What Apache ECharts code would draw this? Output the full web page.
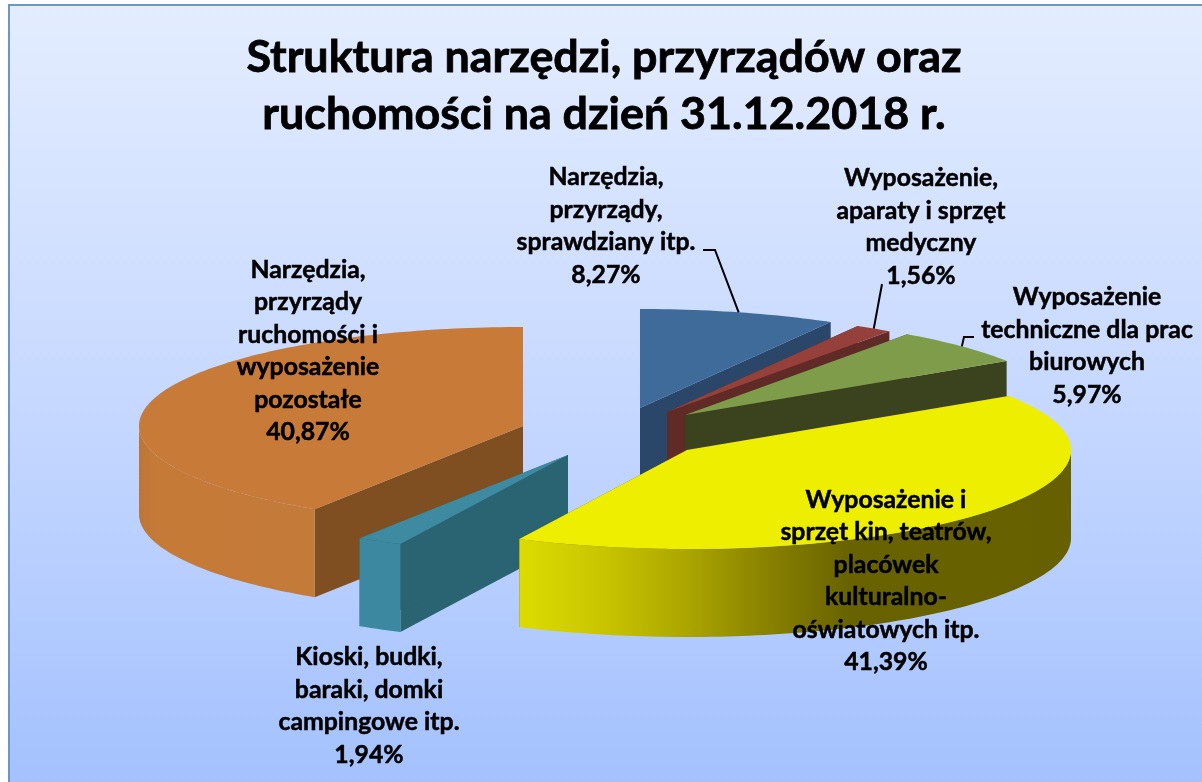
<!DOCTYPE html>
<html>
<head>
<meta charset="utf-8">
<style>html,body{margin:0;padding:0;background:#fff}#c{width:1202px;height:782px}</style>
<script src="https://cdn.jsdelivr.net/npm/echarts@6/dist/echarts.min.js"></script>
</head>
<body>
<div id="c"></div>
<script>
const titleText = 'Struktura narzędzi, przyrządów oraz\nruchomości na dzień 31.12.2018 r.';
const categories = [
  'Narzędzia,\nprzyrządy,\nsprawdziany itp.',
  'Wyposażenie,\naparaty i sprzęt\nmedyczny',
  'Wyposażenie\ntechniczne dla prac\nbiurowych',
  'Wyposażenie i\nsprzęt kin, teatrów,\nplacówek\nkulturalno-\noświatowych itp.',
  'Kioski, budki,\nbaraki, domki\ncampingowe itp.',
  'Narzędzia,\nprzyrządy\nruchomości i\nwyposażenie\npozostałe'
];
const shares = [8.27, 1.56, 5.97, 41.39, 1.94, 40.87];

// Style and layout, kept apart from the data
const topColors  = ['#3f6b9b', '#96403b', '#7f9c4a', '#eeee00', '#3e8aa0', '#c87a38'];
const sideColors = ['#2a4669', '#602a27', '#3a421e', '#6a6400', '#2a6371', '#7f4f22'];
const outerStops = [
  [[0, '#2f5580'], [1, '#2f5580']],
  [[0, '#602a27'], [1, '#602a27']],
  [[0, '#3a421e'], [1, '#3a421e']],
  [[0, '#dcdc00'], [0.15, '#c9c500'], [0.3, '#aca600'], [0.46, '#867f00'], [0.6, '#686200'], [1, '#666000']],
  [[0, '#3b88a0'], [1, '#3b88a0']],
  [[0, '#bd7636'], [0.1, '#c57a38'], [1, '#c47a38']]
];
const apex = [[640, 408], [667, 412], [685, 415], [687, 450], [568, 455], [523, 426]];
const labelPos = [[606, 226], [921, 227], [1087, 346], [886, 581], [369, 706], [308, 351]];
const leaders = [[[703, 250], [715, 250]], [[882, 284]], [[974, 337], [964, 337]], null, null, null];
const paintOrder = [0, 1, 2, 5, 4, 3];
const RX = 384, RY = 99, DEPTH = 88;
const FONT = 'Lato, "Open Sans", sans-serif';

const total = shares.reduce((a, b) => a + b, 0);
const startOf = shares.map((_, i) => shares.slice(0, i).reduce((a, b) => a + b, 0) / total * Math.PI * 2);
const fmt = v => v.toFixed(2).replace('.', ',') + '%';

function rim(c, t, d) {
  return [c[0] + RX * Math.sin(t), c[1] - RY * Math.cos(t) + (d || 0)];
}
function arc(c, t0, t1, d) {
  const n = Math.max(2, Math.ceil((t1 - t0) / 0.02));
  const pts = [];
  for (let i = 0; i <= n; i++) pts.push(rim(c, t0 + (t1 - t0) * i / n, d));
  return pts;
}
function renderItem(params, api) {
  const i = params.dataIndex;
  const share = api.value(0);
  const t0 = startOf[i];
  const t1 = t0 + share / total * Math.PI * 2;
  const c = apex[i];
  const z = paintOrder.indexOf(i) * 10 + 1;
  const children = [];
  const poly = (points, fill, zz) => children.push({
    type: 'polygon', z2: zz, shape: { points },
    style: { fill, stroke: null }
  });
  [t0, t1].forEach(t => {
    const p = rim(c, t);
    poly([c, p, [p[0], p[1] + DEPTH], [c[0], c[1] + DEPTH]], sideColors[i], z);
  });
  const a = Math.max(t0, Math.PI / 2), b = Math.min(t1, Math.PI * 1.5);
  if (b > a) {
    const upper = arc(c, a, b, 0);
    const lower = arc(c, a, b, DEPTH).reverse();
    const xs = upper.map(p => p[0]);
    const x0 = Math.min.apply(null, xs), x1 = Math.max.apply(null, xs);
    const grad = new echarts.graphic.LinearGradient(x0, 0, x1, 0,
      outerStops[i].map(s => ({ offset: s[0], color: s[1] })), true);
    poly(upper.concat(lower), grad, z + 1);
  }
  poly([c].concat(arc(c, t0, t1, 0)), topColors[i], z + 2);

  if (leaders[i]) {
    const anchor = rim(c, (t0 + t1) / 2);
    children.push({
      type: 'polyline', z2: 200,
      shape: { points: leaders[i].concat([anchor]) },
      style: { stroke: '#000', lineWidth: 2, fill: null }
    });
  }
  children.push({
    type: 'text', z2: 300,
    style: {
      text: categories[i] + '\n' + fmt(share),
      x: labelPos[i][0], y: labelPos[i][1],
      align: 'center', verticalAlign: 'middle',
      fontFamily: FONT, fontWeight: 'bold', fontSize: 24.8, lineHeight: 32.4,
      fill: '#000', stroke: '#000', lineWidth: 0.5
    }
  });
  return { type: 'group', children };
}

const chart = echarts.init(document.getElementById('c'), null, { renderer: 'canvas' });
chart.setOption({
  animation: false,
  backgroundColor: '#fff',
  title: {
    text: titleText, left: 599, top: 24, textAlign: 'center',
    textStyle: {
      fontFamily: FONT, fontWeight: 'bold', fontSize: 44.8, lineHeight: 57, color: '#000',
      textBorderColor: '#000', textBorderWidth: 0.8
    }
  },
  graphic: [{
    type: 'rect', z: -10, silent: true,
    shape: { x: 9, y: 5, width: 1200, height: 800 },
    style: {
      fill: new echarts.graphic.LinearGradient(0, 0, 0, 1, [
        { offset: 0, color: '#e4edff' },
        { offset: 0.5, color: '#c6d8ff' },
        { offset: 1, color: '#a2c0fe' }
      ]),
      stroke: '#6a96cc', lineWidth: 2
    }
  }],
  series: [{
    type: 'custom',
    coordinateSystem: 'none',
    renderItem,
    silent: true,
    data: shares.map((v, i) => ({ name: categories[i], value: [v] }))
  }]
});
</script>
</body>
</html>
